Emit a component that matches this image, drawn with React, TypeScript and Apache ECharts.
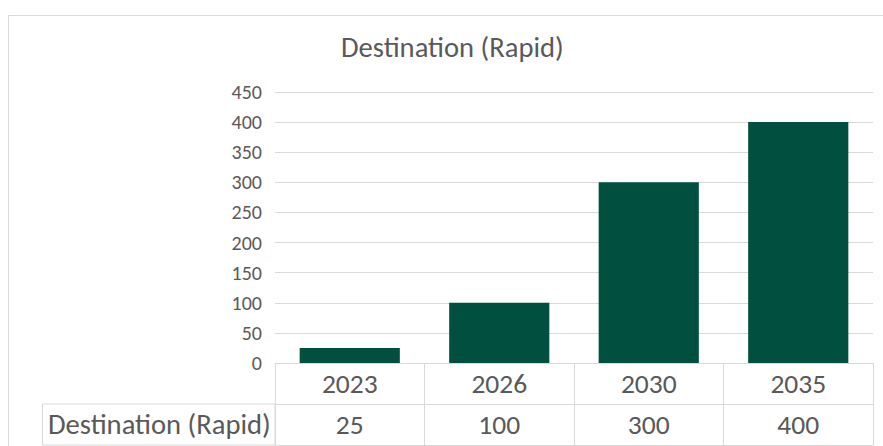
import React, { useEffect, useRef } from "react";
import * as echarts from "echarts";

const title = "Destination (Rapid)";
const seriesName = "Destination (Rapid)";
const categories = ["2023", "2026", "2030", "2035"];
const values = [25, 100, 300, 400];
const yMin = 0;
const yMax = 450;
const yInterval = 50;

const FONT = "Carlito, Calibri, 'Liberation Sans Narrow', 'Open Sans', sans-serif";
const GRAY = "#595959";
const LINE = "#d9d9d9";
const BAR = "#01503f";

export default function App() {
  const ref = useRef<HTMLDivElement>(null);
  useEffect(() => {
    document.body.style.margin = "0";
    const chart = echarts.init(ref.current!, undefined, { renderer: "svg" });
    const gridLeft = 275;
    const gridRight = 10;
    const gridTop = 92;
    const gridBottom = 83;
    const rowH = 41;
    const axisY = 446 - gridBottom;
    chart.setOption({
      animation: false,
      textStyle: { fontFamily: FONT },
      title: {
        text: title,
        left: 341,
        top: 33,
        padding: 0,
        textStyle: { fontSize: 28.6, fontWeight: "normal", color: GRAY, fontFamily: FONT },
      },
      grid: { left: gridLeft, right: gridRight, top: gridTop, bottom: gridBottom },
      xAxis: [
        {
          type: "category",
          data: categories,
          position: "bottom",
          axisLine: { show: true, lineStyle: { color: LINE } },
          axisTick: { show: true, length: rowH, lineStyle: { color: LINE } },
          axisLabel: { fontSize: 27.5, color: GRAY, margin: 6, fontFamily: FONT },
        },
        {
          type: "category",
          data: categories,
          position: "bottom",
          offset: rowH,
          axisLine: { show: true, lineStyle: { color: LINE } },
          axisTick: { show: true, length: rowH, lineStyle: { color: LINE } },
          axisLabel: {
            fontSize: 27.5,
            color: GRAY,
            margin: 6,
            fontFamily: FONT,
            formatter: (_v: string, i: number) => String(values[i]),
          },
        },
        {
          type: "category",
          data: categories,
          position: "bottom",
          offset: rowH * 2,
          axisLine: { show: true, lineStyle: { color: LINE } },
          axisTick: { show: false },
          axisLabel: { show: false },
        },
      ],
      yAxis: {
        type: "value",
        min: yMin,
        max: yMax,
        interval: yInterval,
        axisLine: { show: false },
        axisTick: { show: false },
        axisLabel: { fontSize: 20, color: GRAY, margin: 13, fontFamily: FONT },
        splitLine: { lineStyle: { color: LINE } },
      },
      graphic: [
        {
          type: "rect",
          silent: true,
          shape: { x: 8.5, y: 15.5, width: 1000, height: 1000 },
          style: { fill: "none", stroke: LINE, lineWidth: 1 },
        },
        {
          type: "rect",
          silent: true,
          shape: { x: 42.5, y: axisY + rowH, width: gridLeft - 42.5, height: rowH },
          style: { fill: "none", stroke: LINE, lineWidth: 1 },
        },
        {
          type: "text",
          silent: true,
          x: 48,
          y: axisY + rowH + rowH / 2,
          style: {
            text: seriesName,
            fontSize: 28.6,
            fill: GRAY,
            fontFamily: FONT,
            verticalAlign: "middle",
            align: "left",
          },
        },
      ],
      series: [
        {
          type: "bar",
          name: seriesName,
          data: values,
          xAxisIndex: 0,
          barCategoryGap: "33%",
          itemStyle: { color: BAR },
        },
      ],
    });
    return () => chart.dispose();
  }, []);
  return <div ref={ref} style={{ width: 883, height: 446 }} />;
}
